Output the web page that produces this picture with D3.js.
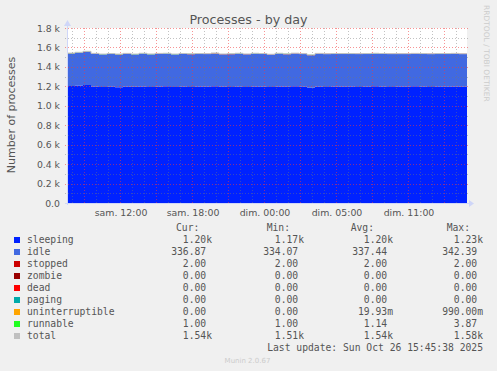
<!DOCTYPE html>
<html>
<head>
<meta charset="utf-8">
<script src="https://cdn.jsdelivr.net/npm/d3@7"></script>
<style>
  body { margin: 0; background: #f0f0f0; }
  svg { display: block; }
</style>
</head>
<body>
<div id="myChart"></div>
<script>
// series values, one sample every 40 minutes
const sleeping = [1203,1209,1214,1199,1194,1196,1191,1197,1195,1199,1193,1196,1200,1194,1197,1192,1198,1196,1201,1195,1193,1197,1194,1199,1196,1192,1198,1195,1200,1196,1186,1197,1194,1199,1195,1198,1193,1196,1201,1197,1194,1198,1195,1200,1196,1193,1198,1196,1199,1195];
const idle = [336,338,342,337,335,338,336,339,334,338,336,340,337,335,338,339,336,337,338,335,337,340,336,338,337,335,339,336,338,337,334,339,338,335,337,336,340,338,336,337,339,335,338,336,337,339,336,338,337,337];
const stopped = [2,2,2,2,2,2,2,2,2,2,2,2,2,2,2,2,2,2,2,2,2,2,2,2,2,2,2,2,2,2,2,2,2,2,2,2,2,2,2,2,2,2,2,2,2,2,2,2,2,2];
const zombie = [0,0,0,0,0,0,0,0,0,0,0,0,0,0,0,0,0,0,0,0,0,0,0,0,0,0,0,0,0,0,0,0,0,0,0,0,0,0,0,0,0,0,0,0,0,0,0,0,0,0];
const dead = [0,0,0,0,0,0,0,0,0,0,0,0,0,0,0,0,0,0,0,0,0,0,0,0,0,0,0,0,0,0,0,0,0,0,0,0,0,0,0,0,0,0,0,0,0,0,0,0,0,0];
const paging = [0,0,0,0,0,0,0,0,0,0,0,0,0,0,0,0,0,0,0,0,0,0,0,0,0,0,0,0,0,0,0,0,0,0,0,0,0,0,0,0,0,0,0,0,0,0,0,0,0,0];
const uninterruptible = [0,0,0,0,0,0,0,0,0,0,0,0,0,0,0,0,0,0,0.99,0,0,0,0,0,0,0,0,0,0,0,0,0,0,0,0,0,0,0,0,0,0,0,0,0,0,0,0,0,0,0];
const runnable = [1,1,2,1,1,1,3,1,1,1,2,1,1,1,1,2,1,1,1,1,3.87,1,1,1,2,1,1,1,1,1,2,1,1,1,3,1,1,1,1,2,1,1,1,1,2,1,1,1,1,1];

const seriesNames = ["sleeping", "idle", "stopped", "zombie", "dead", "paging", "uninterruptible", "runnable", "total"];
const seriesColors = ["#0022ff", "#4169e1", "#cc0000", "#990000", "#ff0000", "#00aaaa", "#ffa500", "#22ff22", "#c0c0c0"];
const curVals = ["1.20k", "336.87", "2.00", "0.00", "0.00", "0.00", "0.00", "1.00", "1.54k"];
const minVals = ["1.17k", "334.07", "2.00", "0.00", "0.00", "0.00", "0.00", "1.00", "1.51k"];
const avgVals = ["1.20k", "337.44", "2.00", "0.00", "0.00", "0.00", "19.93m", "1.14", "1.54k"];
const maxVals = ["1.23k", "342.39", "2.00", "0.00", "0.00", "0.00", "990.00m", "3.87", "1.58k"];

const yTicks = [0, 200, 400, 600, 800, 1000, 1200, 1400, 1600, 1800];
const yTickLabels = ["0.0", "0.2 k", "0.4 k", "0.6 k", "0.8 k", "1.0 k", "1.2 k", "1.4 k", "1.6 k", "1.8 k"];
const xTickTimes = ["2025-10-25T10:00Z", "2025-10-25T16:00Z", "2025-10-25T22:00Z", "2025-10-26T04:00Z", "2025-10-26T10:00Z"];
const xTickLabels = ["sam. 12:00", "sam. 18:00", "dim. 00:00", "dim. 05:00", "dim. 11:00"];

const width = 497, height = 371;
const pLeft = 67, pRight = 467, pTop = 28, pBottom = 203;
const start = new Date(Date.UTC(2025, 9, 25, 5, 35));
const end = new Date(start.getTime() + 400 * 300000);
const step = 40 * 60000;

const svg = d3.select("#myChart").append("svg")
    .attr("width", width)
    .attr("height", height)
    .style("font-family", "DejaVu Sans");

svg.append("rect").attr("width", width).attr("height", height).attr("fill", "#f0f0f0");

const x = d3.scaleUtc().domain([start, end]).range([pLeft, pRight]);
const y = d3.scaleLinear().domain([0, 1800]).range([pBottom, pTop]);

svg.append("rect")
    .attr("x", pLeft).attr("y", pTop)
    .attr("width", pRight - pLeft).attr("height", pBottom - pTop)
    .attr("fill", "#ffffff");

//build rows for the stack, with an extra row at the end so the steps reach the edge
const keys = seriesNames.slice(0, 8);
const cols = [sleeping, idle, stopped, zombie, dead, paging, uninterruptible, runnable];
let rows = sleeping.map((d, i) => {
    let r = { t: new Date(start.getTime() + i * step) };
    keys.forEach((k, j) => r[k] = cols[j][i]);
    return r;
});
let last = Object.assign({}, rows[rows.length - 1]);
last.t = end;
rows.push(last);

const layers = d3.stack().keys(keys)(rows);

const area = d3.area()
    .curve(d3.curveStepAfter)
    .x(d => x(d.data.t))
    .y0(d => y(d[0]))
    .y1(d => y(d[1]));

svg.append("g").selectAll("path")
    .data(layers)
    .enter().append("path")
    .attr("d", area)
    .attr("fill", (d, i) => seriesColors[i]);

//total line on top
const line = d3.line()
    .curve(d3.curveStepAfter)
    .x(d => x(d.t))
    .y(d => y(keys.reduce((s, k) => s + d[k], 0)));

svg.append("path")
    .datum(rows)
    .attr("d", line)
    .attr("fill", "none")
    .attr("stroke", seriesColors[8])
    .attr("stroke-width", 1);

//grid
const grid = svg.append("g").attr("shape-rendering", "crispEdges");
const minorX = x.ticks(d3.utcHour.every(1));
const majorX = minorX.filter(d => d.getUTCHours() % 3 === 1);
const minorY = d3.range(0, 1801, 100);
const minorColor = "rgba(120,120,120,0.45)";
const majorColor = "rgba(240,60,60,0.55)";

grid.selectAll(".vmin").data(minorX.filter(d => d.getUTCHours() % 3 !== 1))
    .enter().append("line")
    .attr("x1", d => Math.round(x(d)) + 0.5).attr("x2", d => Math.round(x(d)) + 0.5)
    .attr("y1", pTop).attr("y2", pBottom + 2)
    .attr("stroke", minorColor).attr("stroke-dasharray", "1,2");

grid.selectAll(".hmin").data(minorY.filter(v => v % 200 !== 0))
    .enter().append("line")
    .attr("x1", pLeft - 2).attr("x2", pRight + 2)
    .attr("y1", d => Math.round(y(d)) + 0.5).attr("y2", d => Math.round(y(d)) + 0.5)
    .attr("stroke", minorColor).attr("stroke-dasharray", "1,2");

grid.selectAll(".vmaj").data(majorX)
    .enter().append("line")
    .attr("x1", d => Math.round(x(d)) + 0.5).attr("x2", d => Math.round(x(d)) + 0.5)
    .attr("y1", pTop).attr("y2", pBottom + 2)
    .attr("stroke", majorColor).attr("stroke-dasharray", "1,2");

grid.selectAll(".hmaj").data(yTicks.slice(1))
    .enter().append("line")
    .attr("x1", pLeft - 2).attr("x2", pRight + 2)
    .attr("y1", d => Math.round(y(d)) + 0.5).attr("y2", d => Math.round(y(d)) + 0.5)
    .attr("stroke", majorColor).attr("stroke-dasharray", "1,2");

//axes with arrows
const axisColor = "#cfd6f8";
svg.append("line")
    .attr("x1", pLeft - 2).attr("x2", pRight + 3)
    .attr("y1", pBottom + 0.5).attr("y2", pBottom + 0.5)
    .attr("stroke", axisColor).attr("shape-rendering", "crispEdges");
svg.append("line")
    .attr("x1", pLeft + 0.5).attr("x2", pLeft + 0.5)
    .attr("y1", pBottom + 2).attr("y2", pTop - 3)
    .attr("stroke", axisColor).attr("shape-rendering", "crispEdges");
svg.append("path")
    .attr("d", `M${pRight + 2},${pBottom - 3}L${pRight + 7},${pBottom + 0.5}L${pRight + 2},${pBottom + 4}Z`)
    .attr("fill", axisColor);
svg.append("path")
    .attr("d", `M${pLeft - 3},${pTop - 2}L${pLeft + 0.5},${pTop - 8}L${pLeft + 4},${pTop - 2}Z`)
    .attr("fill", axisColor);

//tick labels
const textColor = "#555555";
svg.append("g").selectAll("text")
    .data(yTicks)
    .enter().append("text")
    .attr("x", pLeft - 7)
    .attr("y", d => y(d) + 3.5)
    .attr("text-anchor", "end")
    .style("font-size", "9.3px")
    .attr("fill", textColor)
    .text((d, i) => yTickLabels[i]);

svg.append("g").selectAll("text")
    .data(xTickTimes)
    .enter().append("text")
    .attr("x", d => x(new Date(d)) + 1)
    .attr("y", 216)
    .attr("text-anchor", "middle")
    .style("font-size", "9.4px")
    .attr("fill", textColor)
    .text((d, i) => xTickLabels[i]);

//titles
svg.append("text")
    .attr("x", 248.5).attr("y", 24)
    .attr("text-anchor", "middle")
    .style("font-size", "12.7px")
    .attr("fill", textColor)
    .text("Processes - by day");

svg.append("text")
    .attr("transform", "translate(15,115) rotate(-90)")
    .attr("text-anchor", "middle")
    .style("font-size", "11px")
    .attr("fill", textColor)
    .text("Number of processes");

svg.append("text")
    .attr("transform", "translate(484,5) rotate(90)")
    .attr("text-anchor", "start")
    .style("font-size", "7.5px")
    .attr("fill", "#cccccc")
    .text("RRDTOOL / TOBI OETIKER");

//legend
const mono = "DejaVu Sans Mono";
const fs = "9.7px";
const cw = 5.84;
const legend = svg.append("g").style("font-family", mono).style("font-size", fs).attr("fill", textColor);

const headers = ["Cur:", "Min:", "Avg:", "Max:"];
const headerX = [176, 266.7, 350.7, 446.7];
legend.selectAll(".hdr").data(headers)
    .enter().append("text")
    .attr("x", (d, i) => headerX[i]).attr("y", 231)
    .text(d => d);

const rowsL = legend.selectAll(".legends")
    .data(seriesNames)
    .enter().append("g")
    .attr("transform", (d, i) => `translate(0,${243 + i * 12})`);

rowsL.append("rect")
    .attr("x", 14).attr("y", -6)
    .attr("width", 6).attr("height", 6)
    .attr("fill", (d, i) => seriesColors[i]);

rowsL.append("text")
    .attr("x", 27).attr("y", 0)
    .text(d => d);

const colEnds = [212, 304, 393, 483];
const colVals = [curVals, minVals, avgVals, maxVals];
colVals.forEach((vals, c) => {
    rowsL.append("text")
        .attr("x", (d, i) => colEnds[c] - (/[km]$/.test(vals[i]) ? 0 : cw))
        .attr("y", 0)
        .attr("text-anchor", "end")
        .text((d, i) => vals[i]);
});

legend.append("text")
    .attr("x", 483).attr("y", 351)
    .attr("text-anchor", "end")
    .text("Last update: Sun Oct 26 15:45:38 2025");

svg.append("text")
    .attr("x", 247.5).attr("y", 363)
    .attr("text-anchor", "middle")
    .style("font-size", "7px")
    .attr("fill", "#cccccc")
    .text("Munin 2.0.67");
</script>
</body>
</html>
